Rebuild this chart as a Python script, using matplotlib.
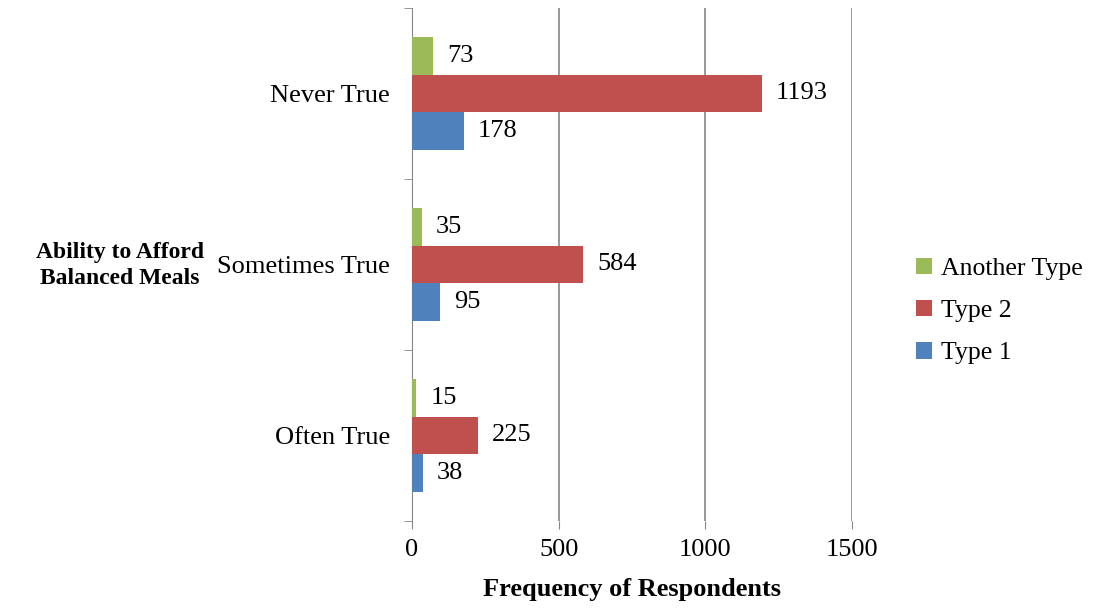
import matplotlib.pyplot as plt
import numpy as np

plt.rcParams['font.family'] = ['Liberation Serif', 'DejaVu Serif']

categories = ['Often True', 'Sometimes True', 'Never True']
type1 = [38, 95, 178]
type2 = [225, 584, 1193]
another = [15, 35, 73]

series = [('Type 1', type1, '#4F81BD'),
          ('Type 2', type2, '#C0504D'),
          ('Another Type', another, '#9BBB59')]

fig = plt.figure(figsize=(10.96, 6.10), dpi=100)
ax = fig.add_axes([0.3759, 0.1459, 0.4015, 0.841])

y = np.arange(len(categories))
h = 0.22
for i, (name, vals, col) in enumerate(series):
    pos = y + (i - 1) * h
    ax.barh(pos, vals, height=h, color=col, label=name, zorder=3)
    for p, v in zip(pos, vals):
        ax.annotate(str(v), (v, p), xytext=(10, 0), textcoords='offset points',
                    va='center', ha='left', fontsize=19)

ax.set_xlim(0, 1500)
ax.set_ylim(-0.5, 2.5)
ax.set_xticks([0, 500, 1000, 1500])
ax.tick_params(axis='x', labelsize=19, length=6, color='#868686', pad=7)
ax.set_yticks(y)
ax.set_yticklabels(categories, fontsize=19)
ax.tick_params(axis='y', length=0, pad=16)
ax.set_yticks([-0.5, 0.5, 1.5, 2.5], minor=True)
ax.tick_params(axis='y', which='minor', length=6, color='#868686')
ax.grid(axis='x', color='#868686', linewidth=1.2, zorder=0)
for s in ['top', 'right', 'bottom']:
    ax.spines[s].set_visible(False)
ax.spines['left'].set_color('#868686')

ax.set_xlabel('Frequency of Respondents', fontsize=19, fontweight='bold', labelpad=12)
fig.text(0.1095, 0.565, 'Ability to Afford\nBalanced Meals', fontsize=17,
         fontweight='bold', ha='center', va='center', linespacing=1.35)

handles, labels = ax.get_legend_handles_labels()
fig.legend(handles[::-1], labels[::-1], loc='center left', bbox_to_anchor=(0.815, 0.49),
           frameon=False, fontsize=18.5, handlelength=0.6, handleheight=0.6,
           handletextpad=0.35, labelspacing=0.78)

fig.savefig('out.png', dpi=100)
